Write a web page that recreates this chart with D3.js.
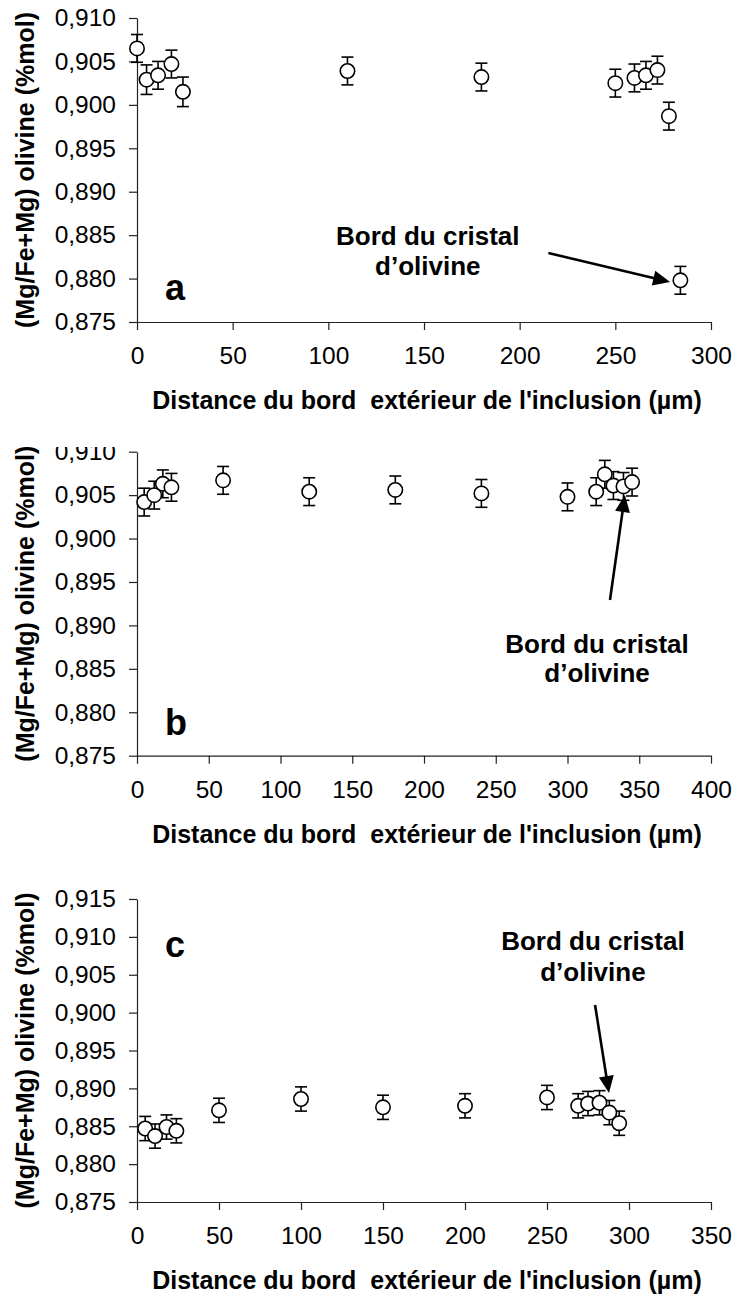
<!DOCTYPE html>
<html>
<head>
<meta charset="utf-8">
<script src="https://cdn.jsdelivr.net/npm/d3@7"></script>
<style>
  html, body { margin: 0; padding: 0; background: #fff; }
  svg { display: block; font-family: "Liberation Sans", Arial, sans-serif; }
</style>
</head>
<body>
<script>
// ---------- data ----------
const aDist = [0, 5, 11, 18, 24, 110, 180, 250, 260, 266, 272, 278, 284];
const aMg   = [0.9065, 0.9029, 0.9034, 0.9047, 0.9015, 0.9039, 0.9032, 0.9025, 0.9031, 0.9034, 0.9040, 0.8987, 0.8798];
const aErr  = [0.0016, 0.0017, 0.0016, 0.0016, 0.0017, 0.0016, 0.0016, 0.0016, 0.0016, 0.0016, 0.0016, 0.0016, 0.0016];

const bDist = [5, 12, 18, 24, 60, 120, 180, 240, 300, 320, 326, 332, 339, 345];
const bMg   = [0.9042, 0.9050, 0.9063, 0.9059, 0.9067, 0.9054, 0.9056, 0.9052, 0.9048, 0.9054, 0.9074, 0.9061, 0.9060, 0.9065];
const bErr  = [0.0016, 0.0016, 0.0016, 0.0016, 0.0016, 0.0016, 0.0016, 0.0016, 0.0016, 0.0016, 0.0016, 0.0016, 0.0016, 0.0016];

const cDist = [5, 11, 18, 24, 50, 100, 150, 200, 250, 269, 275, 282, 288, 294];
const cMg   = [0.8847, 0.8837, 0.8849, 0.8844, 0.8871, 0.8886, 0.8875, 0.8877, 0.8888, 0.8877, 0.8880, 0.8881, 0.8868, 0.8854];
const cErr  = [0.0016, 0.0016, 0.0016, 0.0016, 0.0016, 0.0016, 0.0016, 0.0016, 0.0016, 0.0016, 0.0016, 0.0016, 0.0016, 0.0016];

const aXTicks = [0, 50, 100, 150, 200, 250, 300];
const bXTicks = [0, 50, 100, 150, 200, 250, 300, 350, 400];
const cXTicks = [0, 50, 100, 150, 200, 250, 300, 350];
const abYTicks = [0.875, 0.880, 0.885, 0.890, 0.895, 0.900, 0.905, 0.910];
const cYTicks  = [0.875, 0.880, 0.885, 0.890, 0.895, 0.900, 0.905, 0.910, 0.915];

const panelLetters = ["a", "b", "c"];
const xTitle = "Distance du bord  extérieur de l'inclusion (µm)";
const yTitle = "(Mg/Fe+Mg) olivine (%mol)";
const noteLines = ["Bord du cristal", "d\u2019olivine"];

// annotation anchors in data units: [textX, line1Y, line2Y], arrow [x0,y0,x1,y1]
const aNote  = [152, 0.88386, 0.88041];
const aArrow = [215, 0.88294, 278.6, 0.8796];
const bNote  = [320.6, 0.88682, 0.88348];
const bArrow = [329.6, 0.89293, 340, 0.90501];
const cNote  = [278, 0.90827, 0.90417];
const cArrow = [279.3, 0.9010, 287.8, 0.88939];

// ---------- layout ----------
const W = 734, H = 1297;
const X0 = 137, X1 = 711;
const panels = [
  { dist: aDist, mg: aMg, err: aErr, xTicks: aXTicks, yTicks: abYTicks, xMax: 300, yDom: [0.875, 0.910], top: 18,    bottom: 322,   note: aNote, arrow: aArrow, letter: panelLetters[0], letterY: 300, clip: null },
  { dist: bDist, mg: bMg, err: bErr, xTicks: bXTicks, yTicks: abYTicks, xMax: 400, yDom: [0.875, 0.910], top: 451.7, bottom: 755.7, note: bNote, arrow: bArrow, letter: panelLetters[1], letterY: 735, clip: 447 },
  { dist: cDist, mg: cMg, err: cErr, xTicks: cXTicks, yTicks: cYTicks,  xMax: 350, yDom: [0.875, 0.915], top: 899,   bottom: 1202,  note: cNote, arrow: cArrow, letter: panelLetters[2], letterY: 957, clip: null }
];

const svg = d3.select("body").append("svg").attr("width", W).attr("height", H);
svg.append("rect").attr("width", W).attr("height", H).attr("fill", "#fff");
const defs = svg.append("defs");

const fmt = v => d3.format(".3f")(v).replace(".", ",");

panels.forEach((p, i) => {
  let g = svg.append("g");
  if (p.clip !== null) {
    defs.append("clipPath").attr("id", "clip" + i)
      .append("rect").attr("x", 0).attr("y", p.clip).attr("width", W).attr("height", H - p.clip);
    g.attr("clip-path", "url(#clip" + i + ")");
  }
  const x = d3.scaleLinear().domain([0, p.xMax]).range([X0, X1]);
  const y = d3.scaleLinear().domain(p.yDom).range([p.bottom, p.top]);

  // y axis
  const ya = g.append("g").attr("transform", `translate(${X0},0)`)
    .call(d3.axisLeft(y).tickValues(p.yTicks).tickFormat(fmt).tickSize(8).tickSizeOuter(0).tickPadding(13));
  // x axis
  const xa = g.append("g").attr("transform", `translate(0,${p.bottom})`)
    .call(d3.axisBottom(x).tickValues(p.xTicks).tickFormat(d3.format("d")).tickSize(8).tickSizeOuter(0).tickPadding(17));
  [ya, xa].forEach(ax => {
    ax.attr("font-family", null).attr("font-size", null);
    ax.selectAll("path.domain").attr("stroke", "#222").attr("stroke-width", 1.2);
    ax.selectAll(".tick line").attr("stroke", "#222").attr("stroke-width", 1.2);
    ax.selectAll(".tick text").attr("fill", "#000").style("font-size", "24.5px")
      .style("font-family", "'Liberation Sans', Arial, sans-serif");
  });
  xa.selectAll(".tick text").attr("dy", "0.71em");

  // axis titles
  g.append("text")
    .attr("x", (X0 + X1) / 2 + 3).attr("y", p.bottom + 87)
    .attr("text-anchor", "middle").attr("font-weight", "bold").attr("font-size", 25)
    .style("white-space", "pre").attr("xml:space", "preserve")
    .text(xTitle);
  g.append("text")
    .attr("transform", `translate(34,${(p.top + p.bottom) / 2}) rotate(-90)`)
    .attr("text-anchor", "middle").attr("font-weight", "bold").attr("font-size", 25)
    .text(yTitle);

  // panel letter
  g.append("text").attr("x", 165).attr("y", p.letterY)
    .attr("font-weight", "bold").attr("font-size", 36).text(p.letter);

  // error bars
  const pts = p.dist.map((d, k) => ({ d, v: p.mg[k], e: p.err[k] }));
  const eb = g.append("g").attr("stroke", "#000").attr("stroke-width", 1.6).attr("fill", "none");
  pts.forEach(pt => {
    const cx = x(pt.d), yt = y(pt.v + pt.e), yb = y(pt.v - pt.e);
    eb.append("line").attr("x1", cx).attr("x2", cx).attr("y1", yt).attr("y2", yb);
    eb.append("line").attr("x1", cx - 6).attr("x2", cx + 6).attr("y1", yt).attr("y2", yt);
    eb.append("line").attr("x1", cx - 6).attr("x2", cx + 6).attr("y1", yb).attr("y2", yb);
  });
  // markers
  g.append("g").selectAll("circle").data(pts).join("circle")
    .attr("cx", d => x(d.d)).attr("cy", d => y(d.v)).attr("r", 7.2)
    .attr("fill", "#fff").attr("stroke", "#000").attr("stroke-width", 1.6);

  // annotation text
  const t = g.append("text").attr("text-anchor", "middle").attr("font-weight", "bold").attr("font-size", 26);
  t.append("tspan").attr("x", x(p.note[0])).attr("y", y(p.note[1])).text(noteLines[0]);
  t.append("tspan").attr("x", x(p.note[0])).attr("y", y(p.note[2])).text(noteLines[1]);

  // arrow
  const ax0 = x(p.arrow[0]), ay0 = y(p.arrow[1]), ax1 = x(p.arrow[2]), ay1 = y(p.arrow[3]);
  const dx = ax1 - ax0, dy = ay1 - ay0, L = Math.hypot(dx, dy);
  const ux = dx / L, uy = dy / L, hl = 17, hw = 7.5;
  const bx = ax1 - ux * hl, by = ay1 - uy * hl;
  g.append("line").attr("x1", ax0).attr("y1", ay0).attr("x2", bx + ux * 2).attr("y2", by + uy * 2)
    .attr("stroke", "#000").attr("stroke-width", 2.6);
  g.append("path")
    .attr("d", `M${ax1},${ay1} L${bx - uy * hw},${by + ux * hw} L${bx + uy * hw},${by - ux * hw} Z`)
    .attr("fill", "#000");
});
</script>
</body>
</html>
